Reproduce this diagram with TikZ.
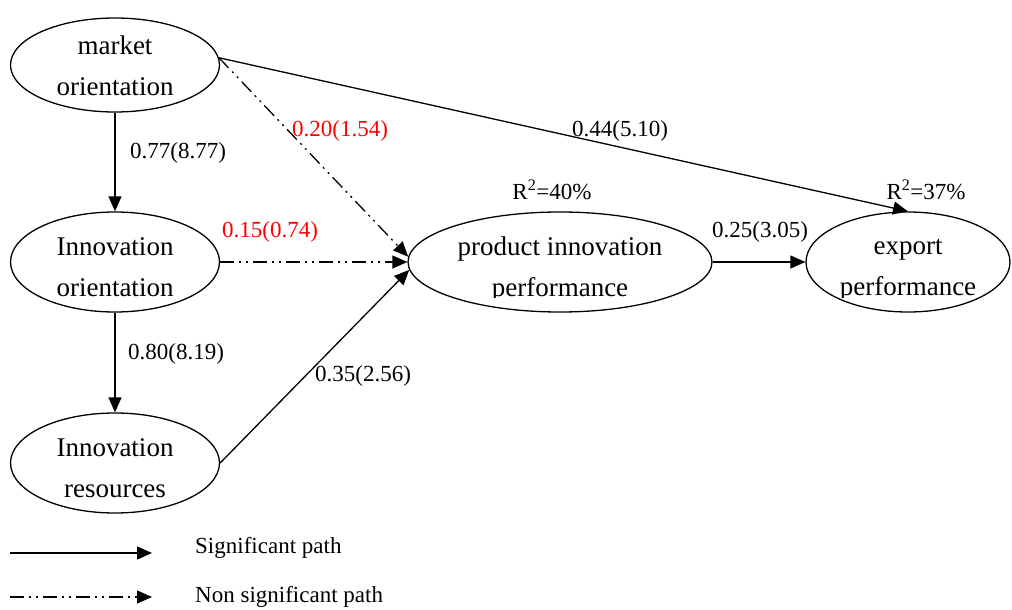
\documentclass[tikz,border=0pt]{standalone}
\usepackage{fontspec}
\setmainfont{Liberation Serif}
\usetikzlibrary{shapes.geometric,arrows.meta}
\tikzset{
  construct/.style={draw, ellipse, line width=1.3pt, inner sep=0pt},
  ctext/.style={inner sep=0pt, align=center, font=\fontsize{27}{41}\selectfont},
  sig/.style={line width=1.3pt, -{Triangle[length=15pt,width=13pt]}},
  nonsig/.style={line width=1.3pt, -{Triangle[length=15pt,width=13pt]},
    dash pattern=on 14pt off 5pt on 2pt off 5pt on 2pt off 5pt},
  lab/.style={font=\fontsize{23}{27}\selectfont, inner sep=0pt},
  redlab/.style={lab, text=red},
}
\begin{document}
\begin{tikzpicture}[x=1pt,y=-1pt]
\useasboundingbox (0,0) rectangle (1012,610);
\node[construct, minimum width=209pt, minimum height=94pt] (m) at (115,65) {};
\node[construct, minimum width=209pt, minimum height=100pt] (io) at (115,262) {};
\node[construct, minimum width=209pt, minimum height=100pt] (ir) at (115,463) {};
\node[construct, minimum width=304pt, minimum height=100pt] (p) at (560,262) {};
\node[construct, minimum width=204pt, minimum height=100pt] (e) at (908,262) {};
\node[ctext] (mt) at (115,66) {market\\orientation};
\node[ctext] (iot) at (115,267) {Innovation\\orientation};
\node[ctext] (irt) at (115,468) {Innovation\\resources};
\begin{scope}
\clip (400,200) rectangle (1012,297);
\node[ctext] (pt) at (560,270) {product innovation\\performance};
\node[ctext] (et) at (908,270) {export\\performance};
\end{scope}

\draw[sig] (m.south) -- (io.north);
\draw[sig] (io.south) -- (ir.north);
\draw[sig] (m.4) -- (e.north);
\draw[nonsig] (m.4) -- (p.178);
\draw[nonsig] (io.east) -- (p.west);
\draw[sig] (ir.east) -- (p.183);
\draw[sig] (p.east) -- (e.west);

\node[lab] (l1) at (178,153) {0.77(8.77)};
\node[lab] (l2) at (176,354) {0.80(8.19)};
\node[lab] (l3) at (620,131) {0.44(5.10)};
\node[redlab] (l4) at (340,131) {0.20(1.54)};
\node[redlab] (l5) at (270,232) {0.15(0.74)};
\node[lab] (l6) at (363,376) {0.35(2.56)};
\node[lab] (l7) at (760,232) {0.25(3.05)};
\node[lab] (r1) at (552,190) {R\textsuperscript{2}=40\%};
\node[lab] (r2) at (926,190) {R\textsuperscript{2}=37\%};

\coordinate (a1) at (10,553);
\coordinate (b1) at (152,553);
\coordinate (a2) at (10,597);
\coordinate (b2) at (152,597);
\draw[sig] (a1) -- (b1);
\draw[nonsig] (a2) -- (b2);
\node[lab, anchor=west] (t1) at (195,548) {Significant path};
\node[lab, anchor=west] (t2) at (195,597) {Non significant path};
\end{tikzpicture}
\end{document}
